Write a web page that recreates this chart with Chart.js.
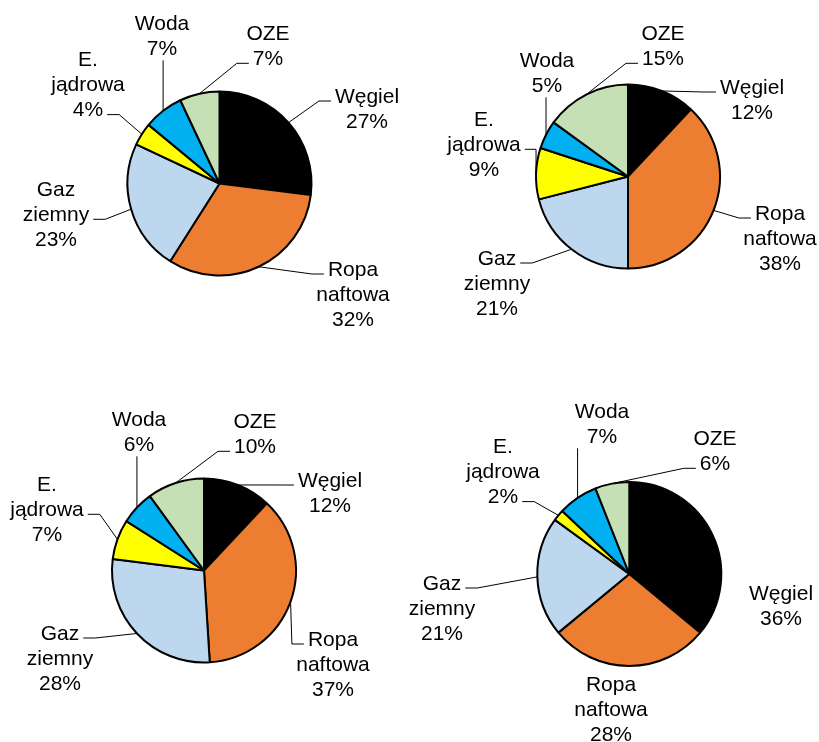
<!DOCTYPE html>
<html>
<head>
<meta charset="utf-8">
<script src="https://cdn.jsdelivr.net/npm/chart.js@4.4.1/dist/chart.umd.min.js"></script>
<style>
  body { margin: 0; background: #fff; }
  #wrap { position: relative; width: 819px; height: 742px; }
  #wrap canvas { position: absolute; left: 0; top: 0; }
</style>
</head>
<body>
<div id="wrap">
  <canvas id="pie1" width="819" height="742"></canvas>
  <canvas id="pie2" width="819" height="742"></canvas>
  <canvas id="pie3" width="819" height="742"></canvas>
  <canvas id="pie4" width="819" height="742"></canvas>
</div>
<script>
// categories, same order in every pie (clockwise from 12 o'clock)
const categories = ['Węgiel', 'Ropa naftowa', 'Gaz ziemny', 'E. jądrowa', 'Woda', 'OZE'];

// shares in % for the four pies
const values1 = [27, 32, 23, 4, 7, 7];
const values2 = [12, 38, 21, 9, 5, 15];
const values3 = [12, 37, 28, 7, 6, 10];
const values4 = [36, 28, 21, 2, 7, 6];

const sliceColors = ['#000000', '#ED7D31', '#BDD7EE', '#FFFF00', '#00B0F0', '#C5E0B4'];

// pie centres on the page
const centers = [[219.5, 183.5], [628, 176.5], [204, 570.5], [629.3, 574]];
const RADIUS = 92;

// label placement: [dx, dy of the block centre / first line, leader side, line used by leader]
// side: R = label right of slice, L = label left, B = leader enters from below, null = no leader
const spots1 = [[147.5, -88.5, 'R', 0], [133.5, 84.5, 'R', 0], [-163.5, 4.5, 'L', 1],
  [-131.5, -125.5, 'L', 2], [-57.5, -161.5, 'B', 0], [48.5, -151.5, 'R', 1]];
const spots2 = [[124, -90.5, 'R', 0], [152, 35.5, 'R', 0], [-131, 80.5, 'L', 0],
  [-144, -58.5, 'L', 1], [-81, -117.5, 'B', 0], [35, -144.5, 'R', 1]];
const spots3 = [[126, -91.5, 'R', 0], [129, 67.5, 'R', 0], [-144, 61.5, 'L', 0],
  [-157, -87.5, 'L', 1], [-65, -152.5, 'B', 0], [51, -150.5, 'R', 1]];
const spots4 = [[151.7, 18, null, 0], [-18.3, 109, null, 0], [-187.3, 8, 'L', 0],
  [-126.3, -129, 'L', 2], [-27.3, -164, 'B', 0], [85.7, -137, 'R', 1]];

const FONT = '21px "Liberation Sans", Arial, sans-serif';
const LINE_H = 25.3;
const TAIL = 12;
const GAP = 4;

// labels with leader lines, Excel style
const outsideLabels = {
  id: 'outsideLabels',
  afterDatasetsDraw(chart, args, opts) {
    const ctx = chart.ctx;
    const meta = chart.getDatasetMeta(0);
    const data = chart.data.datasets[0].data;
    ctx.save();
    ctx.font = FONT;
    ctx.fillStyle = '#000';
    ctx.strokeStyle = '#000';
    ctx.lineWidth = 1;
    ctx.textAlign = 'center';
    ctx.textBaseline = 'alphabetic';
    meta.data.forEach((arc, i) => {
      const p = arc.getProps(['x', 'y', 'startAngle', 'endAngle', 'outerRadius'], true);
      const mid = (p.startAngle + p.endAngle) / 2;
      const sx = p.x + Math.cos(mid) * p.outerRadius;
      const sy = p.y + Math.sin(mid) * p.outerRadius;
      const spot = opts.spots[i];
      const cx = p.x + spot[0];
      const top = p.y + spot[1];
      const lines = chart.data.labels[i].split(' ').concat([data[i] + '%']);
      const ys = lines.map((t, k) => top + k * LINE_H);

      if (spot[2]) {
        ctx.beginPath();
        ctx.moveTo(sx, sy);
        if (spot[2] === 'B') {
          ctx.lineTo(sx, ys[ys.length - 1] + 13);
        } else {
          // leader meets the chosen text line at its own edge
          const lw = ctx.measureText(lines[spot[3]]).width;
          const ey = ys[spot[3]] + 6;
          let ex, elbow;
          if (spot[2] === 'R') {
            ex = cx - lw / 2 - GAP;
            elbow = Math.max(sx, ex - TAIL);
          } else {
            ex = cx + lw / 2 + GAP;
            elbow = Math.min(sx, ex + TAIL);
          }
          ctx.lineTo(elbow, ey);
          ctx.lineTo(ex, ey);
        }
        ctx.stroke();
      }
      lines.forEach((t, k) => ctx.fillText(t, cx, ys[k] + 7.5));
    });
    ctx.restore();
  },
};

function createPie(id, values, center, spots) {
  const el = document.getElementById(id);
  const W = el.width;
  const H = el.height;
  const half = 100;
  return new Chart(el, {
    type: 'pie',
    data: {
      labels: categories,
      datasets: [
        {
          data: values,
          backgroundColor: sliceColors,
          borderColor: '#000',
          borderWidth: 2,
        },
      ],
    },
    options: {
      responsive: false,
      animation: false,
      radius: RADIUS,
      layout: {
        padding: {
          left: center[0] - half,
          right: W - center[0] - half,
          top: center[1] - half,
          bottom: H - center[1] - half,
        },
      },
      plugins: {
        legend: { display: false },
        tooltip: { enabled: false },
        outsideLabels: { spots: spots },
      },
    },
    plugins: [outsideLabels],
  });
}

createPie('pie1', values1, centers[0], spots1);
createPie('pie2', values2, centers[1], spots2);
createPie('pie3', values3, centers[2], spots3);
createPie('pie4', values4, centers[3], spots4);
</script>
</body>
</html>
